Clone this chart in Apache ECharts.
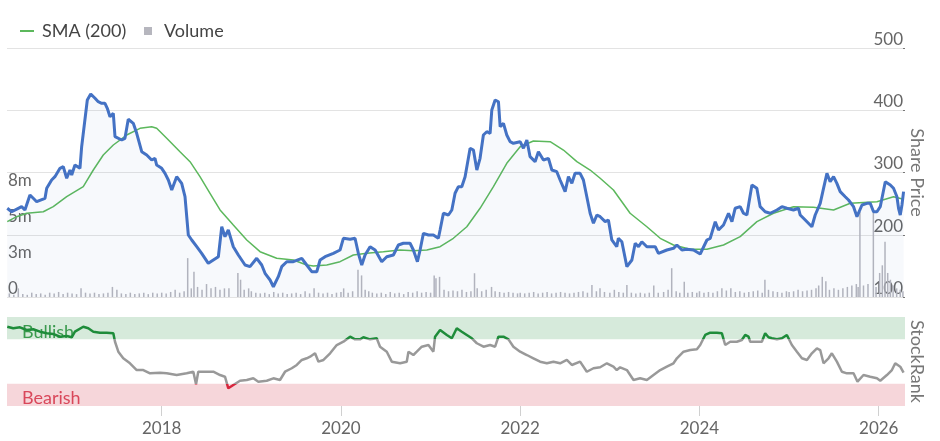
<!DOCTYPE html>
<html><head><meta charset="utf-8">
<script src="https://cdn.jsdelivr.net/npm/echarts/dist/echarts.min.js"></script>
<style>html,body{margin:0;padding:0;background:#fff}#c{width:940px;height:441px}</style>
</head><body><div id="c"></div><script>
// x values are decimal years
const price = [[2016.277,242.5],[2016.326,237.0],[2016.400,242.5],[2016.437,245.1],[2016.474,239.8],[2016.530,263.9],[2016.567,258.6],[2016.605,253.1],[2016.698,258.6],[2016.717,274.6],[2016.772,288.0],[2016.809,293.3],[2016.865,306.7],[2016.902,309.3],[2016.940,290.7],[2016.977,304.0],[2016.996,296.0],[2017.032,312.0],[2017.088,306.7],[2017.107,341.4],[2017.170,416.5],[2017.208,426.1],[2017.256,419.2],[2017.292,413.7],[2017.330,411.2],[2017.367,411.2],[2017.393,403.1],[2017.423,389.6],[2017.460,395.1],[2017.479,357.5],[2017.554,352.2],[2017.590,354.9],[2017.627,385.5],[2017.683,379.0],[2017.721,363.0],[2017.777,333.4],[2017.833,328.1],[2017.888,320.1],[2017.925,322.8],[2017.944,312.0],[2018.000,306.7],[2018.037,298.7],[2018.074,288.0],[2018.112,271.9],[2018.167,293.3],[2018.223,282.6],[2018.260,261.1],[2018.297,199.6],[2018.335,191.6],[2018.391,180.8],[2018.446,170.2],[2018.520,154.1],[2018.576,159.4],[2018.632,164.7],[2018.670,212.9],[2018.706,196.9],[2018.743,207.6],[2018.799,180.8],[2018.855,167.5],[2018.930,151.4],[2018.985,148.7],[2019.060,162.2],[2019.116,151.4],[2019.153,138.1],[2019.209,127.3],[2019.246,116.5],[2019.301,132.6],[2019.339,148.7],[2019.395,156.7],[2019.469,156.7],[2019.563,162.2],[2019.618,151.4],[2019.674,140.6],[2019.730,140.6],[2019.767,159.4],[2019.823,164.7],[2019.915,170.2],[2019.990,175.5],[2020.027,194.3],[2020.102,192.7],[2020.157,194.3],[2020.194,170.2],[2020.232,151.4],[2020.269,167.5],[2020.325,180.8],[2020.381,175.5],[2020.455,156.7],[2020.511,164.7],[2020.585,167.5],[2020.641,183.5],[2020.696,186.3],[2020.771,186.3],[2020.808,175.5],[2020.853,156.7],[2020.883,175.5],[2020.920,202.3],[2020.976,199.6],[2021.031,199.6],[2021.087,194.3],[2021.106,207.6],[2021.143,234.5],[2021.199,231.7],[2021.237,239.8],[2021.273,266.6],[2021.310,277.2],[2021.348,277.2],[2021.385,293.3],[2021.441,338.9],[2021.478,336.1],[2021.516,304.0],[2021.552,322.8],[2021.589,360.2],[2021.627,365.5],[2021.664,363.0],[2021.683,400.4],[2021.720,416.5],[2021.757,413.7],[2021.776,373.6],[2021.813,379.0],[2021.850,360.2],[2021.887,349.5],[2021.924,346.9],[2021.999,349.5],[2022.036,338.9],[2022.074,352.2],[2022.110,325.4],[2022.166,317.4],[2022.203,333.4],[2022.259,320.1],[2022.315,322.8],[2022.353,304.0],[2022.408,301.3],[2022.445,288.0],[2022.501,269.2],[2022.538,293.3],[2022.576,282.6],[2022.612,298.7],[2022.668,298.7],[2022.705,288.0],[2022.743,261.1],[2022.780,234.5],[2022.817,218.4],[2022.855,231.7],[2022.892,229.0],[2022.948,221.0],[2022.984,223.7],[2023.022,191.6],[2023.077,180.8],[2023.095,194.3],[2023.134,188.8],[2023.190,148.7],[2023.246,159.4],[2023.283,186.3],[2023.320,180.8],[2023.357,188.8],[2023.413,180.8],[2023.506,180.8],[2023.542,170.2],[2023.636,175.5],[2023.710,178.2],[2023.748,183.5],[2023.804,175.5],[2023.859,176.6],[2023.933,175.5],[2024.008,169.1],[2024.083,191.6],[2024.120,194.3],[2024.176,221.0],[2024.212,207.6],[2024.268,215.7],[2024.324,234.5],[2024.362,221.0],[2024.398,242.5],[2024.454,245.1],[2024.491,234.5],[2024.529,231.7],[2024.585,279.9],[2024.640,274.6],[2024.677,245.1],[2024.733,237.0],[2024.789,234.5],[2024.864,239.8],[2024.920,245.1],[2024.975,242.5],[2025.049,239.8],[2025.105,242.5],[2025.124,231.7],[2025.180,223.7],[2025.254,212.9],[2025.291,231.7],[2025.347,250.5],[2025.384,274.6],[2025.422,298.7],[2025.458,285.2],[2025.496,293.3],[2025.533,282.6],[2025.570,269.2],[2025.626,261.1],[2025.663,255.8],[2025.719,245.1],[2025.757,229.0],[2025.813,247.8],[2025.868,250.5],[2025.905,250.5],[2025.942,237.0],[2025.980,237.0],[2026.017,245.1],[2026.073,285.2],[2026.129,279.9],[2026.165,274.6],[2026.203,261.1],[2026.221,242.5],[2026.240,231.7],[2026.259,247.8],[2026.277,269.2]];

const sma = [[2016.277,221.0],[2016.382,229.0],[2016.493,234.5],[2016.679,237.0],[2016.790,245.1],[2016.940,261.1],[2017.125,277.2],[2017.237,304.0],[2017.348,328.1],[2017.460,344.2],[2017.609,360.2],[2017.758,371.0],[2017.888,373.6],[2017.944,371.0],[2018.056,354.9],[2018.204,333.4],[2018.316,317.4],[2018.427,293.3],[2018.539,266.6],[2018.651,239.8],[2018.799,215.7],[2018.949,191.6],[2019.097,172.8],[2019.283,162.2],[2019.469,159.4],[2019.618,151.4],[2019.692,149.8],[2019.842,151.4],[2019.990,156.7],[2020.138,167.5],[2020.288,170.2],[2020.473,172.8],[2020.660,175.5],[2020.808,174.4],[2020.958,175.5],[2021.106,180.8],[2021.254,194.3],[2021.404,212.9],[2021.552,242.5],[2021.701,277.2],[2021.850,314.8],[2021.999,341.4],[2022.147,350.6],[2022.334,349.5],[2022.482,336.1],[2022.632,317.4],[2022.780,304.0],[2022.892,290.7],[2023.040,271.9],[2023.226,234.5],[2023.413,212.9],[2023.562,194.3],[2023.710,183.5],[2023.897,176.6],[2024.083,176.6],[2024.268,183.5],[2024.454,196.9],[2024.641,221.0],[2024.826,234.5],[2025.049,245.1],[2025.272,244.1],[2025.496,239.8],[2025.682,250.5],[2025.980,253.1],[2026.165,261.1],[2026.277,256.9]];

const stockRank = [[2016.277,89.1],[2016.344,87.3],[2016.419,88.4],[2016.493,85.4],[2016.567,86.2],[2016.642,83.5],[2016.717,81.7],[2016.790,80.9],[2016.865,77.9],[2016.940,78.7],[2016.996,77.2],[2017.032,83.5],[2017.125,89.1],[2017.181,87.3],[2017.237,83.5],[2017.311,82.4],[2017.386,82.4],[2017.460,81.7],[2017.479,72.2],[2017.516,61.0],[2017.571,53.6],[2017.646,48.0],[2017.721,40.4],[2017.795,40.4],[2017.870,36.7],[2017.981,37.4],[2018.056,36.7],[2018.167,34.8],[2018.279,36.7],[2018.353,38.5],[2018.383,24.5],[2018.408,38.5],[2018.502,38.5],[2018.576,38.5],[2018.651,34.8],[2018.706,32.9],[2018.743,19.9],[2018.799,23.6],[2018.874,28.4],[2018.949,29.2],[2019.022,31.1],[2019.078,27.3],[2019.172,28.4],[2019.246,31.1],[2019.320,29.2],[2019.376,38.5],[2019.451,42.4],[2019.507,46.1],[2019.563,51.7],[2019.618,53.6],[2019.656,55.4],[2019.711,59.2],[2019.749,49.8],[2019.805,51.7],[2019.879,59.2],[2019.953,68.5],[2020.027,72.2],[2020.102,77.9],[2020.157,74.9],[2020.213,74.9],[2020.250,77.2],[2020.325,74.9],[2020.399,76.1],[2020.436,66.6],[2020.511,61.0],[2020.567,49.8],[2020.660,48.0],[2020.734,49.8],[2020.753,61.0],[2020.808,57.3],[2020.846,61.0],[2020.902,66.6],[2020.976,68.5],[2021.031,61.0],[2021.050,77.9],[2021.106,85.4],[2021.181,79.8],[2021.237,76.1],[2021.292,87.3],[2021.348,83.5],[2021.404,79.8],[2021.460,76.1],[2021.516,70.5],[2021.590,66.6],[2021.664,68.5],[2021.720,66.6],[2021.757,77.9],[2021.813,77.9],[2021.869,74.9],[2021.924,66.6],[2021.999,61.0],[2022.074,57.3],[2022.147,53.6],[2022.222,49.8],[2022.297,48.0],[2022.371,49.8],[2022.445,48.0],[2022.520,51.7],[2022.576,46.1],[2022.668,49.8],[2022.743,38.5],[2022.817,42.4],[2022.892,43.5],[2022.967,48.0],[2023.040,44.2],[2023.077,40.4],[2023.115,43.5],[2023.190,40.4],[2023.264,29.2],[2023.338,31.1],[2023.413,29.2],[2023.487,34.8],[2023.562,40.4],[2023.636,44.2],[2023.710,48.0],[2023.748,53.6],[2023.822,61.0],[2023.897,62.9],[2023.971,63.7],[2024.008,68.5],[2024.064,79.8],[2024.120,82.4],[2024.194,82.4],[2024.250,81.7],[2024.287,68.5],[2024.343,72.2],[2024.417,72.2],[2024.473,74.2],[2024.510,79.8],[2024.547,77.9],[2024.566,72.2],[2024.641,72.2],[2024.696,72.2],[2024.733,81.7],[2024.770,77.2],[2024.808,76.1],[2024.864,74.9],[2024.920,76.1],[2024.975,79.8],[2025.031,68.5],[2025.087,61.0],[2025.143,53.6],[2025.199,51.7],[2025.254,59.2],[2025.310,64.8],[2025.347,62.9],[2025.384,48.0],[2025.440,53.6],[2025.477,59.2],[2025.533,49.8],[2025.589,38.5],[2025.645,36.7],[2025.719,36.7],[2025.763,27.3],[2025.830,34.8],[2025.905,32.9],[2025.980,31.1],[2026.017,28.4],[2026.091,34.8],[2026.147,40.4],[2026.184,48.0],[2026.240,44.2],[2026.277,37.4]];

// volume in millions
const volume = [[2016.30,0.25],[2016.35,0.15],[2016.40,0.6],[2016.45,0.2],[2016.50,0.15],[2016.55,0.3],[2016.60,0.2],[2016.65,0.25],[2016.70,0.15],[2016.75,0.3],[2016.80,0.25],[2016.85,0.35],[2016.90,0.2],[2016.95,0.3],
[2017.00,0.25],[2017.05,0.2],[2017.10,0.6],[2017.15,0.3],[2017.20,0.25],[2017.25,0.3],[2017.30,0.2],[2017.35,0.25],[2017.40,0.3],[2017.45,0.7],[2017.50,0.5],[2017.55,0.25],[2017.60,0.2],[2017.65,0.3],[2017.70,0.2],[2017.75,0.25],[2017.80,0.3],[2017.85,0.2],[2017.90,0.3],[2017.95,0.25],
[2018.00,0.3],[2018.05,0.25],[2018.10,0.35],[2018.15,0.5],[2018.20,0.3],[2018.25,0.4],[2018.29,2.7],[2018.33,0.6],[2018.36,1.75],[2018.40,0.7],[2018.45,0.5],[2018.50,0.9],[2018.55,0.6],[2018.60,0.7],[2018.65,0.5],[2018.70,0.6],[2018.75,0.6],[2018.85,1.67],[2018.88,1.2],[2018.92,0.5],[2018.97,0.6],
[2019.00,0.4],[2019.05,0.3],[2019.10,0.25],[2019.15,0.3],[2019.20,0.2],[2019.25,0.35],[2019.30,0.25],[2019.35,0.3],[2019.40,0.2],[2019.45,0.25],[2019.50,0.3],[2019.55,0.2],[2019.60,0.4],[2019.65,0.25],[2019.70,0.6],[2019.75,0.3],[2019.80,0.25],[2019.85,0.3],[2019.90,0.2],[2019.95,0.3],
[2020.00,0.35],[2020.03,0.6],[2020.08,0.3],[2020.13,0.4],[2020.19,1.9],[2020.23,1.5],[2020.27,0.5],[2020.31,0.4],[2020.35,0.3],[2020.40,0.25],[2020.45,0.3],[2020.50,0.2],[2020.55,0.35],[2020.60,0.25],[2020.65,0.3],[2020.70,0.2],[2020.75,0.35],[2020.80,0.3],[2020.85,0.4],[2020.90,0.3],[2020.95,0.35],
[2021.00,0.3],[2021.04,1.5],[2021.06,1.3],[2021.10,1.4],[2021.15,0.5],[2021.20,0.4],[2021.25,0.45],[2021.30,0.4],[2021.35,0.5],[2021.40,0.35],[2021.45,0.4],[2021.49,1.65],[2021.52,0.6],[2021.57,0.4],[2021.62,0.5],[2021.68,0.7],[2021.72,0.4],[2021.77,0.35],[2021.82,0.3],[2021.87,0.35],[2021.92,0.3],[2021.97,0.25],
[2022.00,0.3],[2022.05,0.25],[2022.10,0.3],[2022.15,0.35],[2022.20,0.25],[2022.25,0.3],[2022.30,0.35],[2022.35,0.25],[2022.40,0.3],[2022.45,0.35],[2022.50,0.3],[2022.55,0.25],[2022.60,0.3],[2022.65,0.35],[2022.70,0.4],[2022.75,0.3],[2022.80,0.83],[2022.85,0.4],[2022.89,0.6],[2022.94,0.35],
[2023.00,0.3],[2023.05,0.5],[2023.10,0.35],[2023.15,0.3],[2023.19,0.83],[2023.24,0.3],[2023.29,0.25],[2023.34,0.3],[2023.39,0.25],[2023.44,0.3],[2023.49,0.8],[2023.54,0.3],[2023.60,0.35],[2023.65,0.5],[2023.69,2.0],[2023.74,0.4],[2023.78,0.3],[2023.83,1.06],[2023.87,0.3],[2023.92,0.35],[2023.97,0.3],
[2024.00,0.4],[2024.05,0.3],[2024.10,0.35],[2024.15,0.3],[2024.20,0.4],[2024.25,0.6],[2024.30,0.45],[2024.35,0.6],[2024.40,0.35],[2024.45,0.4],[2024.50,0.3],[2024.55,0.35],[2024.60,0.4],[2024.65,0.45],[2024.70,0.3],[2024.73,1.2],[2024.77,0.5],[2024.82,0.4],[2024.87,0.35],[2024.92,0.3],[2024.97,0.4],
[2025.00,0.35],[2025.05,0.4],[2025.10,0.5],[2025.15,0.4],[2025.20,0.45],[2025.25,0.5],[2025.30,0.6],[2025.33,0.8],[2025.37,1.4],[2025.41,1.1],[2025.45,0.5],[2025.50,0.6],[2025.55,0.5],[2025.60,0.6],[2025.65,0.7],[2025.70,0.8],[2025.75,0.9],[2025.77,0.7],[2025.79,5.9],[2025.83,0.8],[2025.88,0.9],[2025.94,5.9],[2025.97,0.7],
[2026.01,1.67],[2026.04,2.2],[2026.07,3.84],[2026.10,1.67],[2026.13,1.2],[2026.16,0.8],[2026.20,0.6],[2026.24,0.5],[2026.27,0.4]];

const yearTicks = [2018, 2020, 2022, 2024, 2026];
const priceTicks = [100, 200, 300, 400, 500];
const xMin = 2016.274, xMax = 2026.293;

const FONT = 'Lato';
const L = 7, R = 35;
const hiddenX = (g) => ({type:'value', gridIndex:g, min:xMin, max:xMax, show:false});

const chart = echarts.init(document.getElementById('c'), null, {renderer:'canvas'});
chart.setOption({
  animation:false,
  textStyle:{fontFamily:FONT},
  legend:[
    {left:15, top:17, icon:'rect', itemWidth:14, itemHeight:2, data:['SMA (200)'],
     textStyle:{fontSize:18, color:'#444', fontFamily:FONT, padding:[0,0,0,3]}},
    {left:139, top:17, icon:'rect', itemWidth:8, itemHeight:8, data:['Volume'],
     textStyle:{fontSize:18, color:'#444', fontFamily:FONT, padding:[0,0,0,7]}}
  ],
  grid:[
    {left:L, right:R, top:48, height:249},
    {left:L, right:R, top:189, height:108},
    {left:L, right:R, top:317, height:89}
  ],
  xAxis:[
    hiddenX(0), hiddenX(1),
    {type:'value', gridIndex:2, min:xMin, max:xMax,
     axisLine:{show:false},
     axisTick:{show:true, length:10, lineStyle:{color:'#d0d0d0'}, customValues:yearTicks},
     axisLabel:{customValues:yearTicks, formatter:(v)=>String(Math.round(v)), fontSize:17, color:'#666', margin:14, fontFamily:FONT},
     splitLine:{show:false}}
  ],
  yAxis:[
    {type:'value', gridIndex:0, position:'right', min:priceTicks[0], max:priceTicks[priceTicks.length-1], interval:100,
     axisLine:{show:false}, axisTick:{show:true, inside:true, length:2, lineStyle:{color:'#777'}},
     axisLabel:{inside:true, margin:2, verticalAlign:'bottom', fontSize:17, color:'#666', fontFamily:FONT},
     splitLine:{lineStyle:{color:'#e3e3e3'}},
     name:'Share Price', nameLocation:'middle', nameRotate:-90, nameGap:3, nameMoveOverlap:false,
     nameTextStyle:{fontSize:18, color:'#777', fontFamily:FONT}},
    {type:'value', gridIndex:1, position:'left', min:0, max:7.5e6, interval:2.5e6,
     axisLine:{show:false}, axisTick:{show:false}, splitLine:{show:false},
     axisLabel:{inside:true, margin:1, verticalAlign:'bottom', fontSize:17, color:'#666', fontFamily:FONT,
       formatter:(v)=> v===0 ? '0' : Math.round(v/1e6)+'m'}},
    {type:'value', gridIndex:2, position:'right', min:0, max:100, interval:100,
     axisLine:{show:false}, axisTick:{show:false}, splitLine:{show:false},
     axisLabel:{inside:true, margin:3, verticalAlign:'bottom', fontSize:17, color:'#666', fontFamily:FONT,
       formatter:(v)=> v===0 ? '0' : ''},
     name:'StockRank', nameLocation:'middle', nameRotate:-90, nameGap:3, nameMoveOverlap:false,
     nameTextStyle:{fontSize:18, color:'#777', fontFamily:FONT}}
  ],
  visualMap:{
    type:'piecewise', show:false, seriesIndex:3, dimension:1,
    pieces:[{lte:25, color:'#d7263d'}, {gt:25, lt:75, color:'#999999'}, {gte:75, color:'#1e8c3a'}]
  },
  series:[
    {name:'Volume', type:'bar', xAxisIndex:1, yAxisIndex:1, barWidth:1.5, z:1,
     itemStyle:{color:'#b6b6be'},
     data: volume.map(d=>[d[0], d[1]*1e6])},
    {name:'Price', type:'line', xAxisIndex:0, yAxisIndex:0, showSymbol:false, z:3,
     lineStyle:{color:'#4472c4', width:3}, itemStyle:{color:'#4472c4'},
     areaStyle:{color:'rgba(68,114,196,0.06)'},
     data: price},
    {name:'SMA (200)', type:'line', xAxisIndex:0, yAxisIndex:0, showSymbol:false, z:2,
     lineStyle:{color:'#5cb85c', width:1.5}, itemStyle:{color:'#5cb85c'},
     data: sma},
    {name:'StockRank', type:'line', xAxisIndex:2, yAxisIndex:2, showSymbol:false, z:3,
     lineStyle:{width:2.5},
     data: stockRank,
     markArea:{silent:true, data:[
       [{yAxis:75, itemStyle:{color:'#d6eadb'},
         label:{show:true, position:'insideLeft', formatter:'Bullish', color:'#3a9a4e', fontSize:18, fontFamily:FONT, offset:[10,4]}},
        {yAxis:100}],
       [{yAxis:0, itemStyle:{color:'#f6d6da'},
         label:{show:true, position:'insideLeft', formatter:'Bearish', color:'#d9475a', fontSize:18, fontFamily:FONT, offset:[10,3]}},
        {yAxis:25}]
     ]}}
  ]
});
</script></body></html>
